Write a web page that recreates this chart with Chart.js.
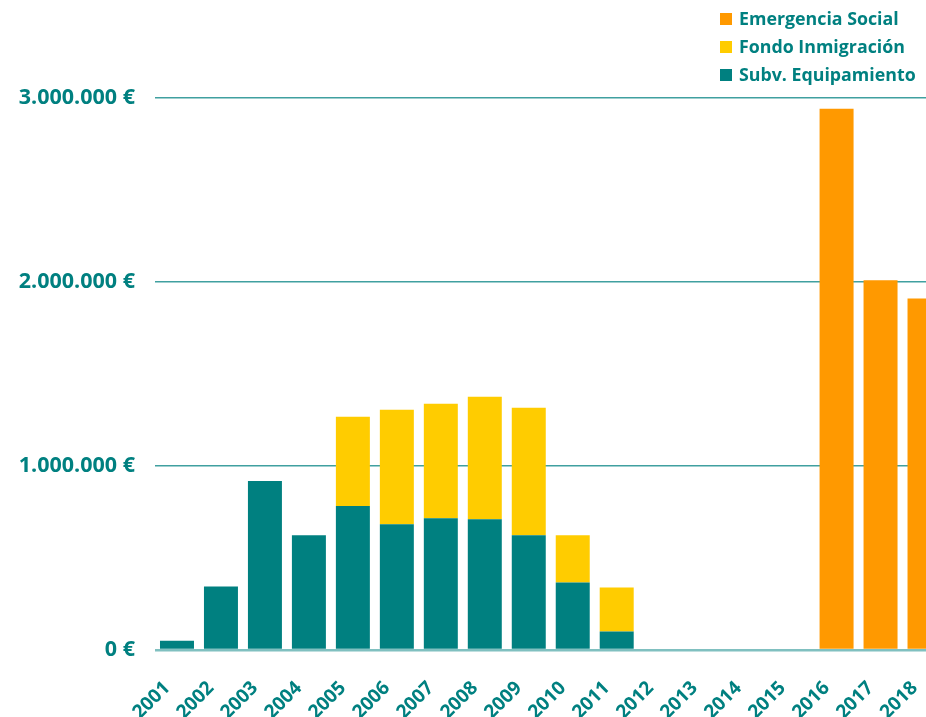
<!DOCTYPE html>
<html>
<head>
<meta charset="utf-8">
<script src="https://cdn.jsdelivr.net/npm/chart.js@4"></script>
<style>
    body { margin: 0; overflow: hidden; background: #fff; }
    #wrap { position: relative; width: 960px; height: 717px; }
    #legend { position: absolute; left: 720px; top: 6px; font-family: "Open Sans", sans-serif; font-weight: bold; font-size: 17.8px; color: #008080; }
    #legend div { height: 28px; line-height: 24px; white-space: nowrap; }
    #legend span.box { display: inline-block; width: 12px; height: 12px; margin-right: 7px; vertical-align: 0px; }
</style>
</head>
<body>
<div id="wrap">
    <canvas id="chart"></canvas>
    <div id="legend"></div>
</div>
<script>
// --- Données ---
const years = ['2001', '2002', '2003', '2004', '2005', '2006', '2007', '2008', '2009',
    '2010', '2011', '2012', '2013', '2014', '2015', '2016', '2017', '2018'];
const equipamiento = [50000, 345000, 918000, 624000, 782000, 684000, 716000, 711000, 624000,
    367000, 100000, null, null, null, null, null, null, null];
const inmigracion = [null, null, null, null, 485000, 622000, 622000, 665000, 692000,
    257000, 240000, null, null, null, null, null, null, null];
const emergencia = [null, null, null, null, null, null, null, null, null,
    null, null, null, null, null, null, 2942000, 2009000, 1911000];
const yTicks = [0, 1000000, 2000000, 3000000];

const TEAL = '#008080';
const COLORS = { equip: '#008080', inmig: '#ffcc00', emerg: '#ff9900' };
const FONT = '"Open Sans", sans-serif';

function euro(v) {
    return String(v).replace(/\B(?=(\d{3})+(?!\d))/g, '.') + ' €';
}

const datasets = [
    { label: 'Subv. Equipamiento', data: equipamiento, backgroundColor: COLORS.equip },
    { label: 'Fondo Inmigración', data: inmigracion, backgroundColor: COLORS.inmig },
    { label: 'Emergencia Social', data: emergencia, backgroundColor: COLORS.emerg }
];

new Chart(document.getElementById('chart'), {
    type: 'bar',
    data: { labels: years, datasets: datasets },
    options: {
        responsive: true,
        maintainAspectRatio: false,
        animation: false,
        layout: { padding: { top: 98, right: 13, bottom: 0, left: 0 } },
        datasets: { bar: { categoryPercentage: 1, barPercentage: 0.773 } },
        plugins: { legend: { display: false }, tooltip: { enabled: false } },
        scales: {
            x: {
                stacked: true,
                grid: { display: false },
                border: { display: false },
                ticks: {
                    color: TEAL,
                    font: { family: FONT, size: 19, weight: 'bold' },
                    minRotation: 45, maxRotation: 45,
                    padding: 19,
                    labelOffset: -10
                },
                afterFit: s => { s.height = 67; }
            },
            y: {
                stacked: true,
                min: 0, max: 3000000,
                afterBuildTicks: s => { s.ticks = yTicks.map(v => ({ value: v })); },
                grid: {
                    drawTicks: false,
                    color: c => c.tick && c.tick.value === 0 ? '#80c0c0' : '#40a0a0',
                    lineWidth: c => c.tick && c.tick.value === 0 ? 2.5 : 1.5
                },
                border: { display: false },
                ticks: {
                    color: TEAL,
                    font: { family: FONT, size: 21.5, weight: 'bold' },
                    padding: 20,
                    callback: v => euro(v)
                },
                afterFit: s => { s.width = 155; }
            }
        }
    }
});

// Légende verticale (ordre inverse de l'empilement)
document.getElementById('legend').innerHTML = datasets.slice().reverse().map(d =>
    `<div><span class="box" style="background:${d.backgroundColor}"></span>${d.label}</div>`
).join('');
</script>
</body>
</html>
